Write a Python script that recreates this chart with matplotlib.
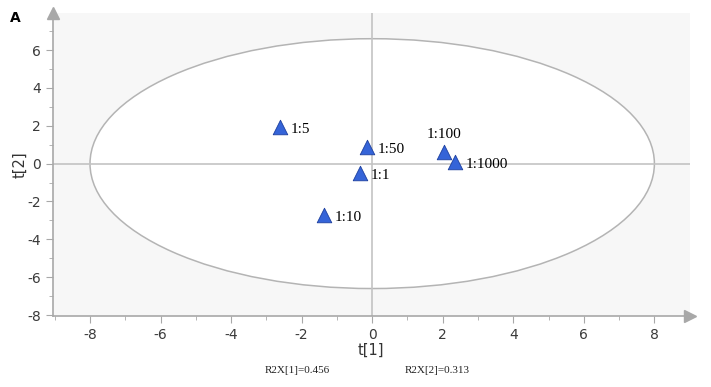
import matplotlib.pyplot as plt
from matplotlib.patches import Ellipse

plt.rcParams['axes.unicode_minus'] = False

labels = ['1:5', '1:50', '1:1', '1:10', '1:100', '1:1000']
t1 = [-2.62, -0.16, -0.35, -1.37, 2.03, 2.34]
t2 = [1.93, 0.88, -0.50, -2.72, 0.61, 0.08]
label_offsets = [(8, -4), (8, -4), (8, -4), (8, -4), (-12, 8), (8, -4)]

fig = plt.figure(figsize=(7.11, 3.87), dpi=100)
ax = fig.add_axes([0.0745, 0.1835, 0.8955, 0.7825])
ax.set_facecolor('#f7f7f7')
ax.set_xlim(-9.05, 9.0)
ax.set_ylim(-8.05, 7.95)

# confidence ellipse
ax.add_patch(Ellipse((0, 0), 16, 13.2, facecolor='white', edgecolor='#b4b4b4', lw=1.1, zorder=1))
ax.axhline(0, color='#c3c3c3', lw=1.2, zorder=2)
ax.axvline(0, color='#c3c3c3', lw=1.2, zorder=2)

ax.scatter(t1, t2, marker='^', s=110, color='#3564d8', edgecolor='#1d3f9e', lw=0.6, zorder=3)
for lab, x, y, off in zip(labels, t1, t2, label_offsets):
    ax.annotate(lab, (x, y), xytext=off, textcoords='offset points',
                fontsize=11, family='Liberation Serif', va='bottom' if off[1] > 0 else 'baseline',
                ha='left', zorder=4)

for s in ['top', 'right']:
    ax.spines[s].set_visible(False)
for s in ['left', 'bottom']:
    ax.spines[s].set_color('#a8a8a8')
    ax.spines[s].set_linewidth(1.2)

# arrow heads on the axes
ax.plot(1, 0, '>', color='#a8a8a8', ms=8, transform=ax.transAxes, clip_on=False)
ax.plot(0, 1, '^', color='#a8a8a8', ms=8, transform=ax.transAxes, clip_on=False)

ax.set_xticks(range(-8, 9, 2))
ax.set_xticks(range(-9, 9), minor=True)
ax.set_yticks(range(-8, 7, 2))
ax.set_yticks(range(-8, 8), minor=True)
ax.tick_params(which='both', color='#a8a8a8', labelsize=10, labelcolor='#3a3a3a')
ax.tick_params(which='major', length=5)
ax.tick_params(which='minor', length=3)

ax.set_xlabel('t[1]', fontsize=10.5, color='#333333')
ax.set_ylabel('t[2]', fontsize=10.5, color='#333333')
ax.xaxis.set_label_coords(0.5, -0.09)
ax.yaxis.set_label_coords(-0.04, 0.5)

fig.text(0.014, 0.943, 'A', fontsize=10, fontweight='bold')
fig.text(0.418, 0.035, 'R2X[1]=0.456', fontsize=8, family='Liberation Serif', ha='center', color='#222222')
fig.text(0.615, 0.035, 'R2X[2]=0.313', fontsize=8, family='Liberation Serif', ha='center', color='#222222')

fig.savefig('out.png', dpi=100)
